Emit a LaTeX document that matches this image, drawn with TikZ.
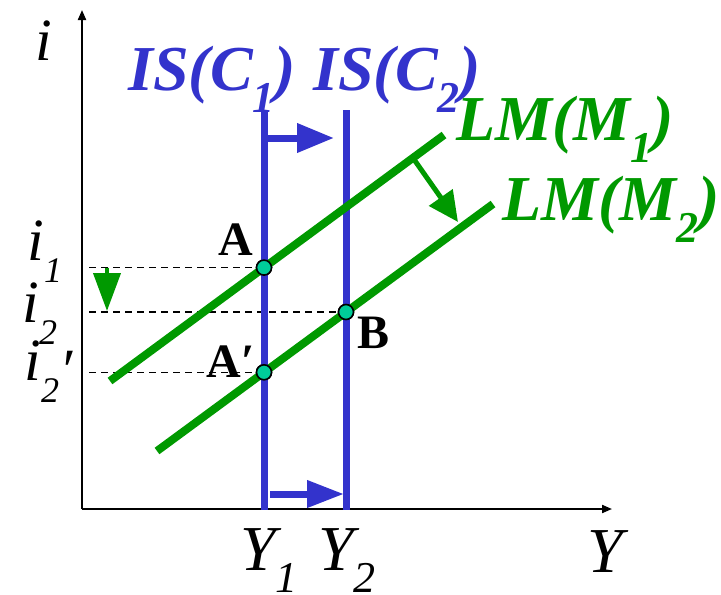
\documentclass[tikz,border=0pt]{standalone}
\usepackage{fontspec}
\setmainfont{Liberation Serif}
\usepackage{tikz}
\usetikzlibrary{arrows.meta}
\definecolor{ISBlue}{RGB}{51,51,204}
\definecolor{LMGreen}{RGB}{0,153,0}
\definecolor{DotTeal}{RGB}{0,204,153}
\newcommand{\sublbl}[3][22]{#2\raisebox{-11pt}{\fontsize{#1}{#1}\selectfont #3}}

\begin{document}
\begin{tikzpicture}[x=0.5pt,y=-0.5pt,
    axis/.style={line width=1pt,-{Triangle[length=5pt,width=4pt]}},
    guide/.style={line width=0.8pt,dash pattern=on 3.5pt off 2.5pt},
    iscurve/.style={ISBlue,line width=3.5pt},
    lmcurve/.style={LMGreen,line width=4pt},
    eqdot/.style={circle,draw=black,fill=DotTeal,line width=0.8pt,
      minimum size=7.5pt,inner sep=0pt},
    lbl/.style={anchor=base west,inner sep=0pt,
      font=\fontsize{32}{32}\selectfont\itshape},
    ilbl/.style={lbl,font=\fontsize{30}{30}\selectfont\itshape},
    ptlbl/.style={anchor=base west,inner sep=0pt,
      font=\fontsize{24}{24}\selectfont\bfseries}]
  \useasboundingbox (0,0) rectangle (721,594);
  % axes
  \coordinate (O) at (82,509);
  \coordinate (itop) at (82,10);
  \coordinate (Yend) at (612,509);
  \draw[axis] (O) -- (itop);
  \draw[axis] (O) -- (Yend);
  % equilibrium points
  \node[eqdot] (A) at (264,267.6) {};
  \node[eqdot] (Ap) at (264,372.3) {};
  \node[eqdot] (B) at (346,312) {};
  % guide lines to the i axis
  \coordinate (i1) at (89,267.6);
  \coordinate (i2) at (89,312);
  \coordinate (i2p) at (89,372.3);
  \draw[guide] (i1) -- (A);
  \draw[guide] (i2) -- (B);
  \draw[guide] (i2p) -- (Ap);
  % IS curves
  \coordinate (is1top) at (264,110);
  \coordinate (is1bot) at (264,510);
  \coordinate (is2top) at (346,110);
  \coordinate (is2bot) at (346,510);
  \draw[iscurve] (is1top) -- (is1bot);
  \draw[iscurve] (is2top) -- (is2bot);
  \coordinate (up0) at (264,138);
  \coordinate (up1) at (334,138);
  \coordinate (dn0) at (270,494);
  \coordinate (dn1) at (344,494);
  \draw[iscurve,-{Triangle[length=18.5pt,width=14pt]}] (up0) -- (up1);
  \draw[iscurve,-{Triangle[length=18.5pt,width=13pt]}] (dn0) -- (dn1);
  % LM curves
  \coordinate (lm1a) at (110,381);
  \coordinate (lm1b) at (444,135);
  \coordinate (lm2a) at (157,451);
  \coordinate (lm2b) at (493,204);
  \draw[lmcurve] (lm1a) -- (lm1b);
  \draw[lmcurve] (lm2a) -- (lm2b);
  \coordinate (sh0) at (413,158);
  \coordinate (sh1) at (458,222);
  \draw[LMGreen,line width=2.5pt,-{Triangle[length=15pt,width=14pt]}] (sh0) -- (sh1);
  \coordinate (dr0) at (107,267.6);
  \coordinate (dr1) at (107,311);
  \draw[LMGreen,line width=2pt,-{Triangle[length=19pt,width=13.5pt]}] (dr0) -- (dr1);
  % redraw dots on top
  \node[eqdot] at (A) {};
  \node[eqdot] at (Ap) {};
  \node[eqdot] at (B) {};
  % labels
  \node[ilbl] (ilab) at (35,60) {i};
  \node[ilbl] (i1lab) at (27,260) {\sublbl[18]{i}{1}};
  \node[ilbl] (i2lab) at (22,322) {\sublbl[18]{i}{2}};
  \node[ilbl] (i2plab) at (24,380) {\sublbl[18]{i}{2}\raisebox{-5pt}{′}};
  \node[lbl] (Ylab) at (587,572) {Y};
  \node[lbl] (Y1lab) at (240,570) {\sublbl{Y}{1}};
  \node[lbl] (Y2lab) at (318,570) {\sublbl{Y}{2}};
  \node[lbl,text=ISBlue,font=\fontsize{32}{32}\selectfont\bfseries\itshape]
    (is1lab) at (128,90) {\sublbl{IS(C}{1})};
  \node[lbl,text=ISBlue,font=\fontsize{32}{32}\selectfont\bfseries\itshape]
    (is2lab) at (313,90) {\sublbl{IS(C}{2})};
  \node[lbl,text=LMGreen,font=\fontsize{32}{32}\selectfont\bfseries\itshape]
    (lm1lab) at (456,140) {\sublbl{LM(M}{1})};
  \node[lbl,text=LMGreen,font=\fontsize{32}{32}\selectfont\bfseries\itshape]
    (lm2lab) at (502,220) {\sublbl{LM(M}{2})};
  \node[ptlbl,anchor=base east] (Alab) at (254,255) {A};
  \node[ptlbl] (Aplab) at (206,377) {A′};
  \node[ptlbl] (Blab) at (357,348) {B};
\end{tikzpicture}
\end{document}
